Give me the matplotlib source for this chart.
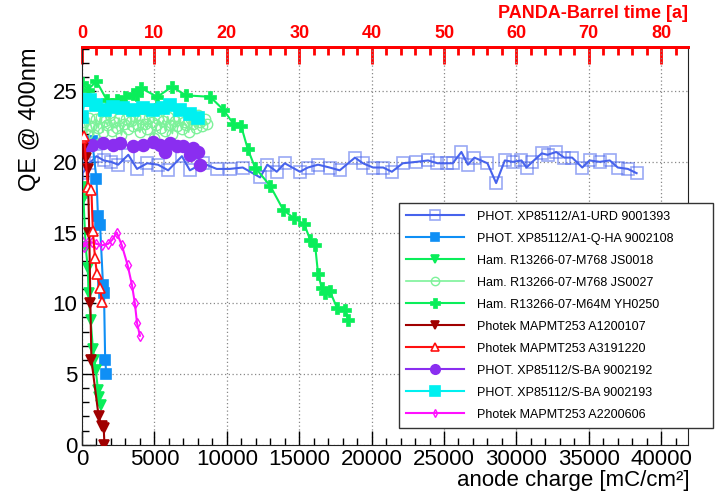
import matplotlib
matplotlib.use("Agg")
import matplotlib.pyplot as plt
from matplotlib.ticker import MultipleLocator, FixedLocator

plt.rcParams['font.family'] = ['Liberation Sans', 'DejaVu Sans']

# ---------------- data ----------------
urd_x = [0, 50, 500, 1000, 1500, 2000, 2500, 3200, 3800, 4500, 5250, 5950, 6900, 7450,
         8350, 9300, 10200, 11100, 12300, 12800, 13450, 14000, 15050, 15600, 16300, 17100,
         17800, 18850, 19400, 20100, 20800, 21400, 22150, 23100, 23900, 24550, 25200, 25600,
         26200, 26650, 27100, 28000, 28600, 29200, 29750, 30350, 30700, 31100, 31750, 32150,
         32750, 33300, 33850, 34550, 35050, 35750, 36450, 37000, 37700, 38300]
urd_y = [17.9, 19.2, 19.9, 20.4, 20.1, 20.0, 19.8, 20.5, 19.5, 19.9, 19.8, 19.4, 20.4, 19.4,
         19.9, 19.5, 19.5, 19.6, 18.9, 19.8, 19.3, 19.9, 19.3, 19.6, 19.8, 19.6, 19.4, 20.3,
         19.9, 19.6, 19.6, 19.3, 19.9, 20.0, 20.1, 19.9, 19.9, 19.9, 20.7, 19.8, 20.3, 19.9,
         18.5, 20.1, 20.0, 20.1, 19.6, 20.0, 20.6, 20.5, 20.7, 20.3, 20.3, 19.6, 20.1, 20.0,
         20.1, 19.6, 19.5, 19.2]

qha_x = [0, 300, 700, 1000, 1100, 1250, 1450, 1520, 1600, 1680]
qha_y = [21.0, 21.3, 21.5, 18.8, 16.2, 15.5, 11.3, 10.7, 6.0, 5.0]

js18_x = [0, 100, 250, 400, 450, 600, 750, 850, 950, 1100, 1200, 1300]
js18_y = [18.2, 17.4, 14.0, 12.5, 10.7, 8.8, 6.8, 6.0, 5.3, 3.9, 3.4, 2.8]

js27_x = [0, 160, 320, 480, 640, 800, 960, 1120, 1280, 1440, 1600, 1760, 1920, 2080,
          2240, 2400, 2560, 2720, 2880, 3040, 3200, 3360, 3520, 3680, 3840, 4000, 4160,
          4320, 4480, 4640, 4800, 4960, 5120, 5280, 5440, 5600, 5760, 5920, 6080, 6240,
          6400, 6560, 6720, 6880, 7040, 7200, 7360, 7520, 7680, 7840, 8000, 8160, 8320,
          8480, 8640]
js27_y = [24.3, 22.8, 22.0, 23.1, 22.5, 21.9, 23.0, 22.4, 23.2, 22.1, 22.9, 22.6, 23.3,
          22.2, 22.8, 22.4, 23.1, 21.9, 22.7, 23.0, 22.3, 22.9, 22.5, 23.2, 22.6, 22.1,
          23.0, 22.7, 22.3, 23.1, 22.8, 21.7, 22.6, 23.0, 22.4, 22.9, 22.2, 23.2, 22.6,
          22.0, 22.9, 22.5, 23.1, 22.3, 22.8, 22.6, 22.1, 23.0, 22.7, 22.4, 23.3, 22.8,
          22.5, 23.0, 22.7]

yh_x = [0, 400, 1000, 1700, 2400, 3000, 3500, 3800, 4100, 5200, 6200, 7200, 8850, 9750,
        10450, 11000, 11450, 11950, 13000, 13900, 14650, 15350, 15750, 16100, 16300, 16550,
        16750, 17100, 17600, 18150, 18400]
yh_y = [25.6, 25.1, 25.7, 24.4, 24.4, 24.6, 24.8, 24.7, 25.2, 24.6, 25.3, 24.7, 24.6, 23.7,
        22.7, 22.5, 20.9, 19.6, 18.3, 16.6, 16.0, 15.6, 14.5, 14.1, 12.1, 11.1, 10.7, 10.9,
        9.7, 9.5, 8.8]

a12_x = [100, 250, 400, 500, 580, 650, 1150, 1350, 1500, 1550]
a12_y = [21.0, 20.3, 19.5, 15.0, 10.0, 6.0, 2.0, 1.3, 1.2, 0.0]

a31_x = [0, 150, 400, 650, 750, 900, 1030, 1240, 1380]
a31_y = [21.7, 21.8, 18.2, 18.0, 15.1, 13.2, 12.1, 11.1, 10.1]

s92_x = [0, 300, 700, 1450, 2150, 2600, 3500, 4200, 4900, 5400, 5700, 6100, 6550, 7000,
         7450, 7700, 8000, 8150]
s92_y = [21.1, 21.1, 21.2, 21.3, 21.2, 21.3, 21.1, 21.2, 21.4, 21.2, 20.7, 21.3, 21.1,
         21.1, 20.5, 21.0, 20.7, 19.8]

s93_x = [0, 200, 550, 1000, 1600, 2150, 2850, 3500, 4200, 4900, 5600, 6100, 6750, 7450, 8000]
s93_y = [23.2, 24.4, 24.4, 24.0, 23.7, 23.9, 23.8, 23.7, 23.8, 23.7, 23.8, 24.0, 23.7, 23.4, 23.1]

a22_x = [0, 150, 400, 700, 1000, 1400, 1800, 2100, 2400, 2750, 3150, 3450, 3650, 3800, 4000]
a22_y = [14.4, 14.0, 14.3, 14.3, 14.2, 14.1, 14.2, 14.5, 15.0, 14.1, 12.7, 11.3, 10.0, 8.6, 7.7]

labels = ["PHOT. XP85112/A1-URD 9001393", "PHOT. XP85112/A1-Q-HA 9002108",
          "Ham. R13266-07-M768 JS0018", "Ham. R13266-07-M768 JS0027",
          "Ham. R13266-07-M64M YH0250", "Photek MAPMT253 A1200107",
          "Photek MAPMT253 A3191220", "PHOT. XP85112/S-BA 9002192",
          "PHOT. XP85112/S-BA 9002193", "Photek MAPMT253 A2200606"]

time_major = [0, 10, 20, 30, 40, 50, 60, 70, 80]
time_minor = [2, 4, 6, 8, 12, 14, 16, 18, 22, 24, 26, 28, 32, 34, 36, 38, 42, 44, 46, 48,
              52, 54, 56, 58, 62, 64, 66, 68, 72, 74, 76, 78, 82]

# ---------------- figure ----------------
W, H = 715, 494
fig = plt.figure(figsize=(W / 100, H / 100), dpi=100)
ax = fig.add_axes([82 / W, 1 - 444.7 / H, (688 - 82) / W, (444.7 - 47.3) / H])

handles = []
def plot(x, y, color, marker, label, ms=7, mfc=None, alpha=1.0, lw=1.5, mew=1.2, z=2):
    h, = ax.plot(x, y, color=color, marker=marker, ms=ms, lw=lw,
                 mfc=(color if mfc is None else mfc), mec=color, mew=mew,
                 label=label, zorder=z)
    if alpha < 1.0:
        h.set_markeredgecolor(matplotlib.colors.to_rgba(color, alpha))
    handles.append(h)
    return h

plot(urd_x, urd_y, '#4763EC', 's', labels[0], ms=9, mfc='none', alpha=0.55, mew=1.2)
plot(qha_x, qha_y, '#0F8FF5', 's', labels[1], ms=7.5)
plot(js18_x, js18_y, '#0AEE5A', 'v', labels[2], ms=7)
plot(js27_x, js27_y, '#7DF29A', 'o', labels[3], ms=7.5, mfc='none', lw=1.2, mew=1.0)
plot(yh_x, yh_y, '#0AEE5A', 'P', labels[4], ms=8.5, mew=0.5)
plot(a12_x, a12_y, '#A00000', 'v', labels[5], ms=7.5, z=3)
plot(a31_x, a31_y, '#FF1010', '^', labels[6], ms=7, mfc='white', z=3)
plot(s92_x, s92_y, '#8A2EF0', 'o', labels[7], ms=8.5)
plot(s93_x, s93_y, '#00F0F0', 's', labels[8], ms=8.5)
plot(a22_x, a22_y, '#FF10FF', 'd', labels[9], ms=5, mfc='none', mew=1.0)

ax.set_xlim(0, 41850)
ax.set_ylim(0, 28.1)
ax.xaxis.set_major_locator(MultipleLocator(5000))
ax.xaxis.set_minor_locator(MultipleLocator(1000))
ax.yaxis.set_major_locator(MultipleLocator(5))
ax.yaxis.set_minor_locator(MultipleLocator(1))
ax.grid(True, which='major', linestyle=(0, (1, 2)), color='#888888', lw=0.9)
ax.tick_params(which='both', direction='in', top=False, right=False, labelsize=16, width=1.0)
ax.tick_params(which='major', length=10)
ax.tick_params(which='minor', length=5)
ax.tick_params(axis='x', pad=3)
ax.set_ylabel("QE @ 400nm", fontsize=17, loc='top', labelpad=8)
for s in ['left', 'bottom', 'right']:
    ax.spines[s].set_color('#222222')
ax.spines['top'].set_color('red')
ax.spines['top'].set_linewidth(2.0)

# x-axis title (ROOT style: right aligned below the tick labels)
fig.text(690 / W, 1 - 486 / H, "anode charge [mC/cm\u00b2]", fontsize=16,
         ha='right', va='baseline')

sec = ax.secondary_xaxis('top', functions=(lambda x: x / 500.0, lambda t: t * 500.0))
sec.xaxis.set_major_locator(FixedLocator(time_major))
sec.xaxis.set_minor_locator(FixedLocator(time_minor))
sec.tick_params(which='both', direction='in', colors='red', width=2.0, labelsize=13, pad=4)
sec.tick_params(which='major', length=12)
sec.tick_params(which='minor', length=6)
for lab in sec.get_xticklabels():
    lab.set_fontweight('bold')
sec.spines['top'].set_color('red')
sec.spines['top'].set_linewidth(2.0)
fig.text(688 / W, 1 - 14 / H, "PANDA-Barrel time [a]", color='red', fontsize=13,
         fontweight='bold', ha='right', va='center')

leg = fig.legend(handles=handles, loc='lower left',
                 bbox_to_anchor=(399 / W, 1 - 428 / H, (W - 399 - 2) / W, (428 - 195.7) / H),
                 mode='expand', borderaxespad=0, fontsize=9, handlelength=4.6,
                 labelspacing=0.8, fancybox=False, edgecolor='#333333', framealpha=1,
                 borderpad=0.6, handletextpad=1.05, markerscale=0.8)
leg.get_frame().set_linewidth(1.0)

fig.savefig("out.png", dpi=100)
